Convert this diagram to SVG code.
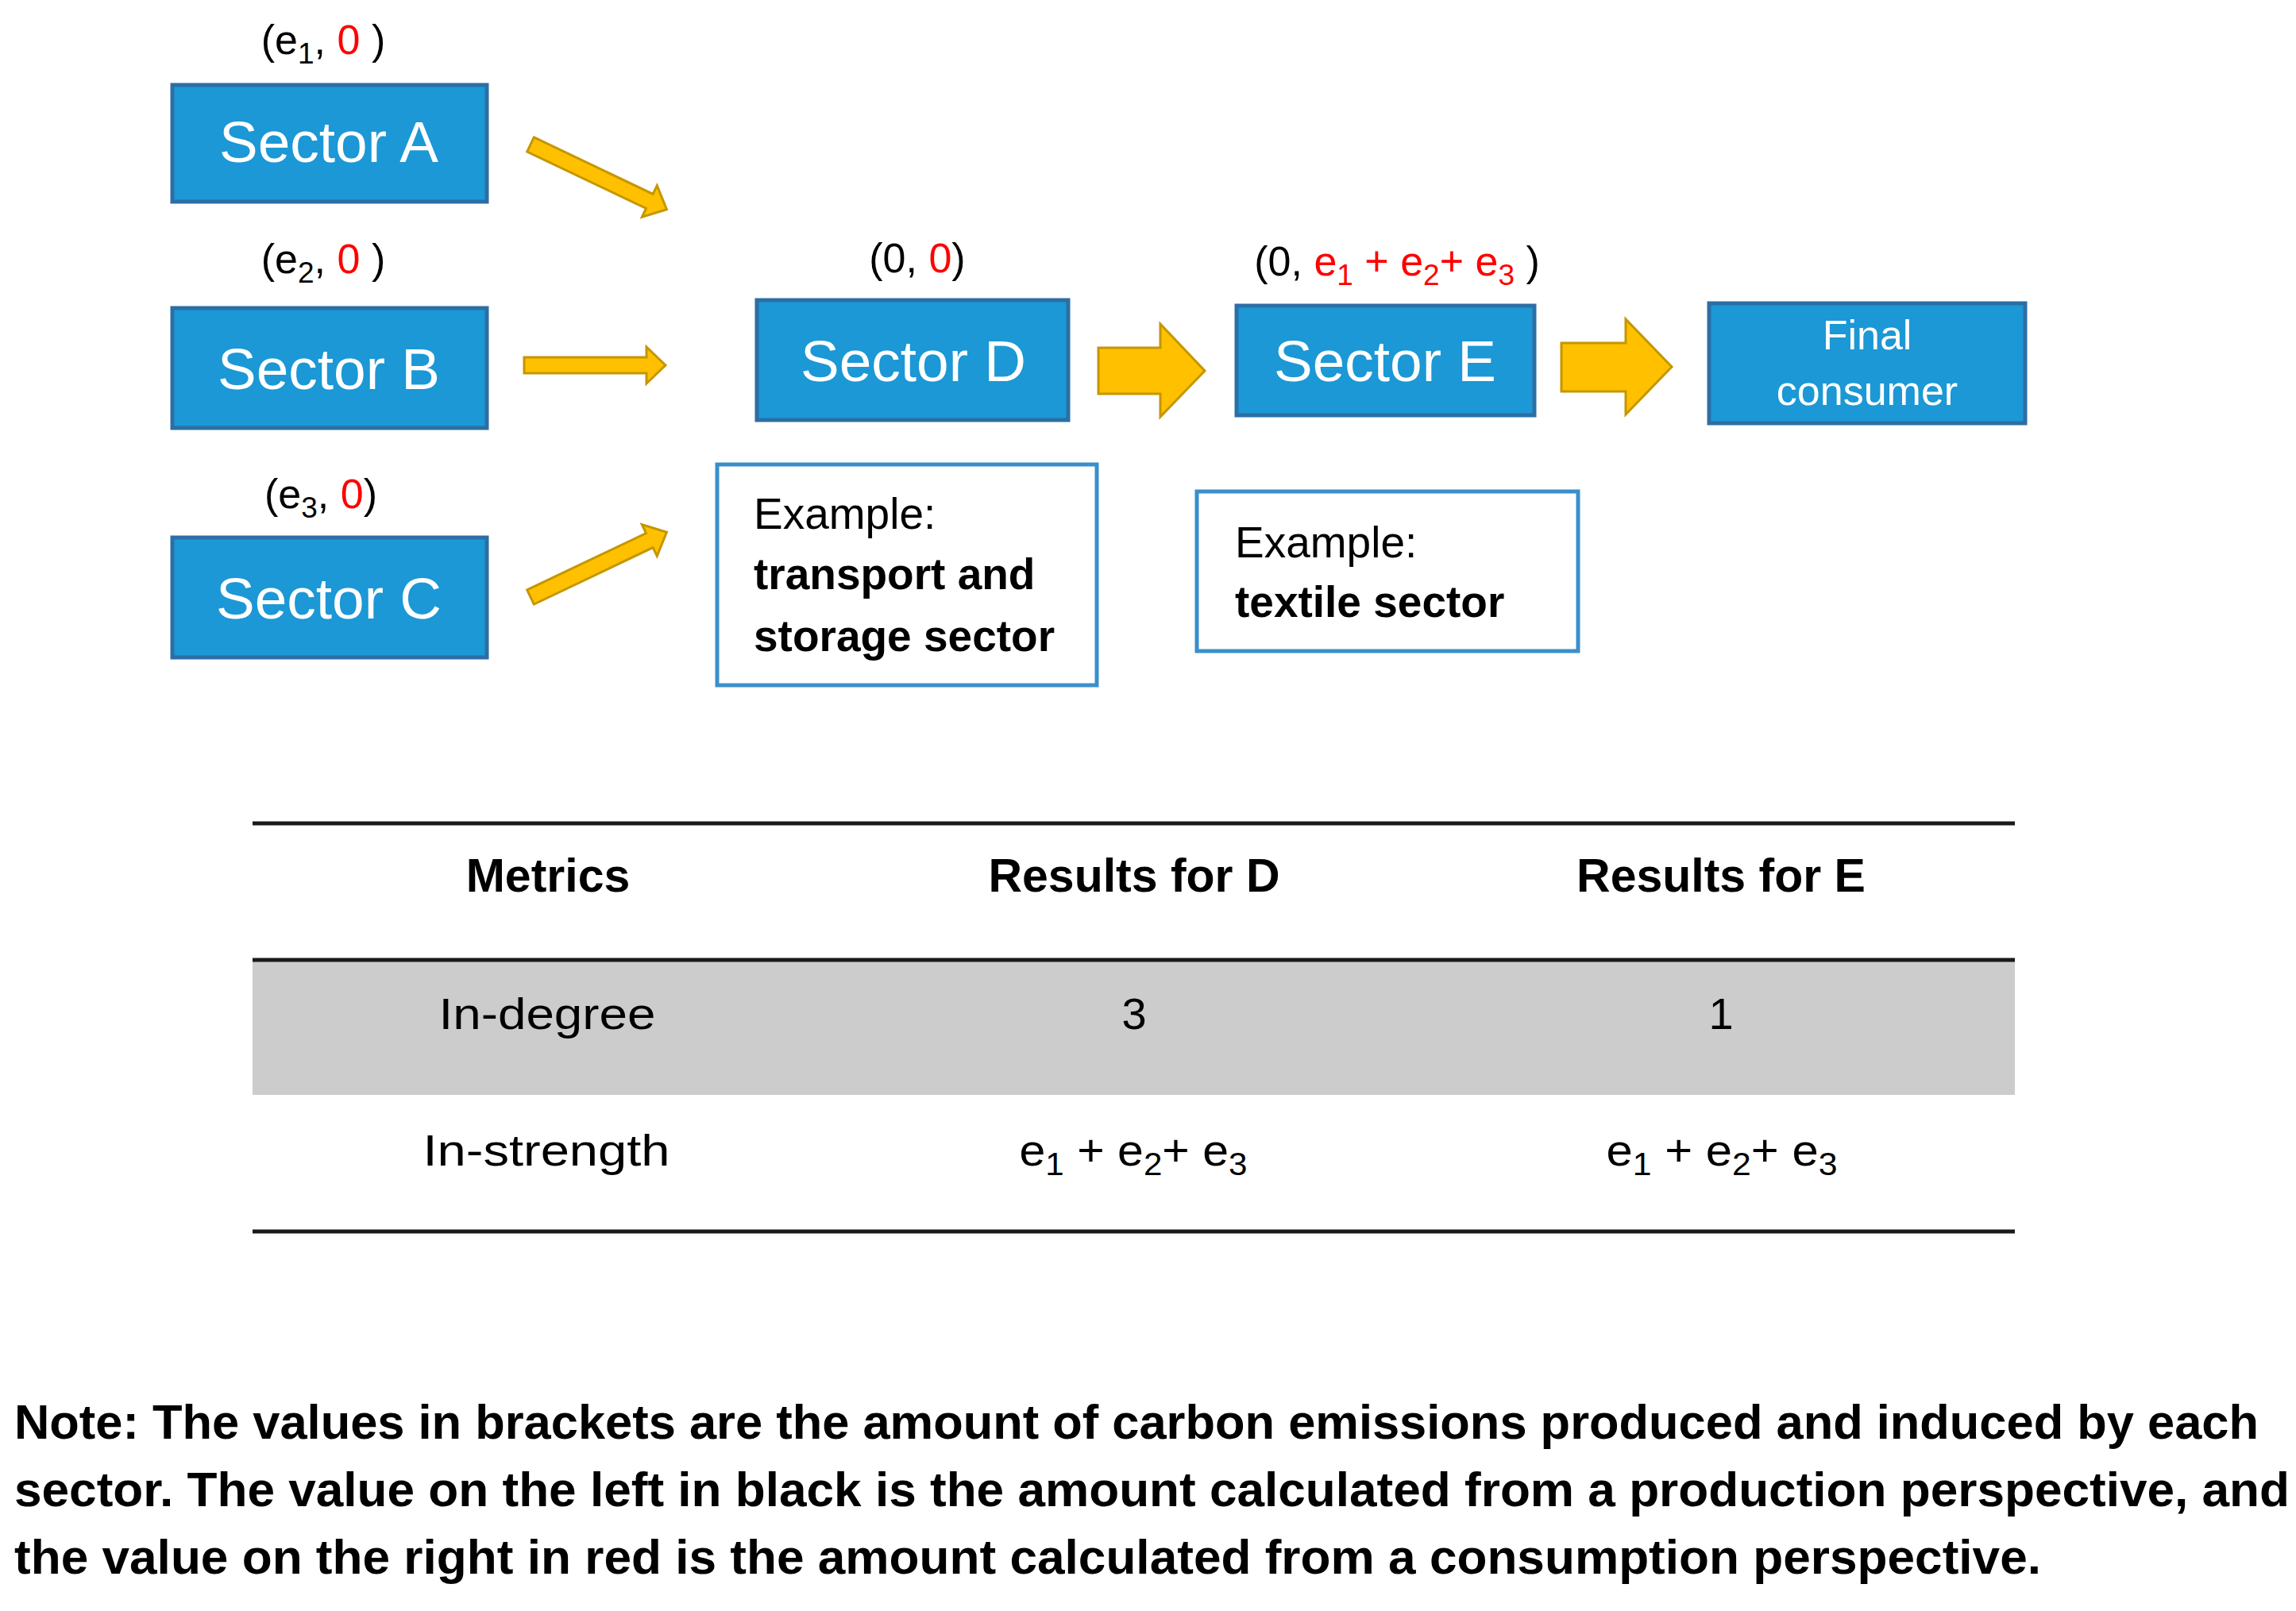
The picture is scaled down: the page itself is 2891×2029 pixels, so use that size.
<svg xmlns="http://www.w3.org/2000/svg" width="2891" height="2029" viewBox="0 0 2891 2029">
<style>
text{font-family:"Liberation Sans",Arial,sans-serif}
.box{fill:#1B98D5;stroke:#2C6EA5;stroke-width:5}
.btxt{font-size:73px;fill:#ffffff;text-anchor:middle}
.ftxt{font-size:52px;fill:#ffffff;text-anchor:middle}
.lbl{font-size:52px;fill:#000;text-anchor:middle}
.sub{font-size:37px}
.red{fill:#FF0000}
.ex{fill:#ffffff;stroke:#3A8FCB;stroke-width:5}
.extxt{font-size:55px;fill:#000}
.b{font-weight:bold}
.arrow{fill:#FFC000;stroke:#C59600;stroke-width:3;stroke-linejoin:miter}
.rule{stroke:#1a1a1a;stroke-width:5}
.th{font-size:59px;font-weight:bold;fill:#000;text-anchor:middle}
.td{font-size:56px;fill:#000;text-anchor:middle}
.sub2{font-size:40px}
.note{font-size:61px;font-weight:bold;fill:#000}
</style>

<g id="connectors">
<polygon class="arrow" transform="translate(668,182) rotate(25.5)" points="0,-10 166,-10 166,-22 190,0 166,22 166,10 0,10"/>
<polygon class="arrow" transform="translate(660,460)" points="0,-10 154,-10 154,-23 178,0 154,23 154,10 0,10"/>
<polygon class="arrow" transform="translate(668,752) rotate(-25.5)" points="0,-10 166,-10 166,-22 190,0 166,22 166,10 0,10"/>
<polygon class="arrow" points="1383,438 1461,438 1461,408 1517,467 1461,525 1461,496 1383,496"/>
<polygon class="arrow" points="1966,432 2047,432 2047,402 2105,462 2047,522 2047,493 1966,493"/>
</g>

<g id="sectorA">
<text class="lbl" x="407" y="68">(e<tspan class="sub" dy="12">1</tspan><tspan dy="-12">, </tspan><tspan class="red">0</tspan> )</text>
<rect class="box" x="217" y="107" width="396" height="147"/>
<text class="btxt" x="414" y="204">Sector A</text>
</g>

<g id="sectorB">
<text class="lbl" x="407" y="344">(e<tspan class="sub" dy="12">2</tspan><tspan dy="-12">, </tspan><tspan class="red">0</tspan> )</text>
<rect class="box" x="217" y="388" width="396" height="151"/>
<text class="btxt" x="414" y="490">Sector B</text>
</g>

<g id="sectorC">
<text class="lbl" x="404" y="640">(e<tspan class="sub" dy="12">3</tspan><tspan dy="-12">, </tspan><tspan class="red">0</tspan>)</text>
<rect class="box" x="217" y="677" width="396" height="151"/>
<text class="btxt" x="414" y="779">Sector C</text>
</g>

<g id="sectorD">
<text class="lbl" x="1155" y="343">(0, <tspan class="red">0</tspan>)</text>
<rect class="box" x="953" y="378" width="392" height="151"/>
<text class="btxt" x="1150" y="480">Sector D</text>
</g>

<g id="sectorE">
<text class="lbl" x="1759" y="347">(0, <tspan class="red">e<tspan class="sub" dy="12">1</tspan><tspan dy="-12"> + e</tspan><tspan class="sub" dy="12">2</tspan><tspan dy="-12">+ e</tspan><tspan class="sub" dy="12">3</tspan></tspan><tspan dy="-12"> )</tspan></text>
<rect class="box" x="1557" y="385" width="375" height="138"/>
<text class="btxt" x="1744" y="480">Sector E</text>
</g>

<g id="finalConsumer">
<rect class="box" x="2152" y="382" width="398" height="151"/>
<text class="ftxt" x="2351" y="440">Final</text>
<text class="ftxt" x="2351" y="510">consumer</text>
</g>

<g id="exampleD">
<rect class="ex" x="903" y="585" width="478" height="278"/>
<text class="extxt" x="949" y="666">Example:</text>
<text class="extxt b" x="949" y="742">transport and</text>
<text class="extxt b" x="949" y="820">storage sector</text>
</g>

<g id="exampleE">
<rect class="ex" x="1507" y="619" width="480" height="201"/>
<text class="extxt" x="1555" y="702">Example:</text>
<text class="extxt b" x="1555" y="777">textile sector</text>
</g>

<g id="table">
<rect x="318" y="1211" width="2219" height="168" fill="#CCCCCC"/>
<line class="rule" x1="318" y1="1037" x2="2537" y2="1037"/>
<line class="rule" x1="318" y1="1209" x2="2537" y2="1209"/>
<line class="rule" x1="318" y1="1551" x2="2537" y2="1551"/>
<text class="th" x="690" y="1123">Metrics</text>
<text class="th" x="1428" y="1123">Results for D</text>
<text class="th" x="2167" y="1123">Results for E</text>
<text class="td" x="689" y="1296" textLength="273" lengthAdjust="spacingAndGlyphs">In-degree</text>
<text class="td" x="1428" y="1296">3</text>
<text class="td" x="2167" y="1296">1</text>
<text class="td" x="688" y="1468" textLength="311" lengthAdjust="spacingAndGlyphs">In-strength</text>
<text class="td" x="1427" y="1468" textLength="287" lengthAdjust="spacingAndGlyphs">e<tspan class="sub2" dy="12">1</tspan><tspan dy="-12"> + e</tspan><tspan class="sub2" dy="12">2</tspan><tspan dy="-12">+ e</tspan><tspan class="sub2" dy="12">3</tspan></text>
<text class="td" x="2168" y="1468" textLength="291" lengthAdjust="spacingAndGlyphs">e<tspan class="sub2" dy="12">1</tspan><tspan dy="-12"> + e</tspan><tspan class="sub2" dy="12">2</tspan><tspan dy="-12">+ e</tspan><tspan class="sub2" dy="12">3</tspan></text>
</g>

<g id="note">
<text class="note" x="18" y="1812" textLength="2826" lengthAdjust="spacingAndGlyphs">Note: The values in brackets are the amount of carbon emissions produced and induced by each</text>
<text class="note" x="18" y="1897" textLength="2865" lengthAdjust="spacingAndGlyphs">sector. The value on the left in black is the amount calculated from a production perspective, and</text>
<text class="note" x="18" y="1982" textLength="2552" lengthAdjust="spacingAndGlyphs">the value on the right in red is the amount calculated from a consumption perspective.</text>
</g>
</svg>
